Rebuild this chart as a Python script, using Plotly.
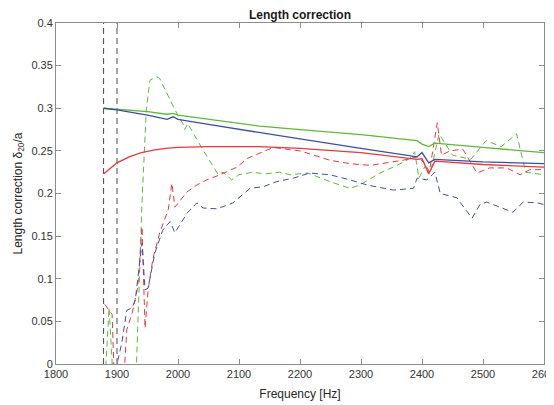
import plotly.graph_objects as go

# solid curves
f_blue = [1878, 1900, 1950, 1982, 1992, 2000, 2050, 2134, 2200, 2300, 2392, 2400, 2411, 2421, 2500, 2600]
blue = [0.300, 0.298, 0.292, 0.287, 0.290, 0.287, 0.281, 0.271, 0.264, 0.253, 0.243, 0.248, 0.236, 0.240, 0.237, 0.235]

f_green = [1878, 1900, 1950, 1982, 1992, 2000, 2050, 2134, 2200, 2300, 2392, 2400, 2411, 2421, 2500, 2600]
green = [0.300, 0.299, 0.296, 0.293, 0.294, 0.292, 0.287, 0.279, 0.275, 0.269, 0.262, 0.258, 0.255, 0.259, 0.254, 0.248]

f_red = [1878, 1890, 1900, 1920, 1940, 1960, 1980, 2000, 2050, 2134, 2200, 2300, 2392, 2400, 2411, 2421, 2500, 2600]
red = [0.223, 0.230, 0.236, 0.243, 0.248, 0.251, 0.253, 0.254, 0.255, 0.255, 0.253, 0.248, 0.240, 0.241, 0.223, 0.238, 0.234, 0.231]

# dashed (measured) curves
f_green_d = [1878, 1887, 1896, 1931, 1941, 1948, 1954, 1965, 1970, 1982, 1995, 2008, 2011, 2016, 2041,
             2066, 2074, 2088, 2100, 2123, 2143, 2167, 2184, 2213, 2233, 2249, 2282, 2298, 2331, 2359,
             2380, 2388, 2395, 2405, 2415, 2428, 2450, 2480, 2505, 2530, 2555, 2570, 2600]
green_d = [-0.05, 0.066, -0.05, -0.02, 0.19, 0.298, 0.333, 0.337, 0.335, 0.318, 0.298, 0.282, 0.275, 0.282, 0.251,
           0.222, 0.225, 0.216, 0.222, 0.225, 0.223, 0.225, 0.222, 0.224, 0.218, 0.214, 0.206, 0.210, 0.224, 0.233,
           0.241, 0.249, 0.218, 0.232, 0.228, 0.270, 0.245, 0.240, 0.262, 0.255, 0.270, 0.225, 0.222]

f_red_d = [1880, 1892, 1897, 1911, 1916, 1925, 1934, 1941, 1946, 1951, 1959, 1970, 1984, 1990, 1995,
           2015, 2031, 2047, 2069, 2097, 2113, 2134, 2156, 2200, 2249, 2282, 2315, 2369, 2392, 2405,
           2412, 2425, 2432, 2446, 2467, 2490, 2511, 2539, 2561, 2577, 2600]
red_d = [0.070, 0.058, -0.05, -0.02, 0.040, 0.060, 0.090, 0.161, 0.042, 0.087, 0.124, 0.154, 0.181, 0.212, 0.184,
         0.202, 0.210, 0.216, 0.222, 0.231, 0.241, 0.247, 0.254, 0.250, 0.239, 0.235, 0.233, 0.239, 0.243, 0.235,
         0.225, 0.283, 0.245, 0.250, 0.252, 0.224, 0.230, 0.230, 0.222, 0.228, 0.228]

f_blue_d = [1898, 1900, 1908, 1916, 1925, 1930, 1941, 1946, 1951, 1962, 1975, 1987, 1995, 2015, 2031,
            2041, 2064, 2090, 2118, 2140, 2162, 2189, 2216, 2249, 2282, 2310, 2353, 2386, 2392, 2408,
            2421, 2430, 2457, 2482, 2495, 2506, 2549, 2566, 2589, 2600]
blue_d = [-0.02, 0.0, 0.025, 0.063, 0.066, 0.075, 0.142, 0.087, 0.089, 0.130, 0.157, 0.167, 0.154, 0.177, 0.189,
          0.183, 0.182, 0.189, 0.206, 0.208, 0.214, 0.218, 0.224, 0.222, 0.216, 0.210, 0.204, 0.206, 0.218, 0.216,
          0.225, 0.200, 0.195, 0.171, 0.187, 0.190, 0.178, 0.190, 0.189, 0.187]

# vertical markers
v_lines = [1878, 1900]

x_ticks = list(range(1800, 2601, 100))
y_ticks = [0, 0.05, 0.1, 0.15, 0.2, 0.25, 0.3, 0.35, 0.4]
y_ticktext = ['0', '0.05', '0.1', '0.15', '0.2', '0.25', '0.3', '0.35', '0.4']

BLUE = '#3c4ea3'
GREEN = '#5fb83c'
RED = '#e8383d'
DASH = '6px,4px'

fig = go.Figure()

for f in v_lines:
    fig.add_trace(go.Scatter(x=[f, f], y=[0, 0.4], mode='lines',
                             line=dict(color='#4a4a4a', width=1, dash=DASH)))

for x, y, c in [(f_green_d, green_d, GREEN), (f_red_d, red_d, RED), (f_blue_d, blue_d, BLUE)]:
    fig.add_trace(go.Scatter(x=x, y=y, mode='lines', line=dict(color=c, width=1, dash=DASH)))

for x, y, c in [(f_red, red, RED), (f_green, green, GREEN), (f_blue, blue, BLUE)]:
    fig.add_trace(go.Scatter(x=x, y=y, mode='lines', line=dict(color=c, width=1.3)))

axis_style = dict(showline=True, linecolor='#8c8c8c', linewidth=1, mirror='ticks',
                  ticks='inside', ticklen=5, tickcolor='#8c8c8c', showgrid=False, zeroline=False,
                  automargin=False, tickfont=dict(size=11, color='#333333'))

# the page body adds an 8px offset, so the figure is sized/margined to compensate
fig.update_layout(
    width=546, height=397,
    margin=dict(l=48, r=10, t=15, b=41),
    paper_bgcolor='white', plot_bgcolor='white',
    showlegend=False,
    font=dict(family='Liberation Sans, Arial, sans-serif', color='#262626'),
    title=dict(text='<b>Length correction</b>', x=0.5348, xanchor='center', y=0.984, yanchor='middle',
               font=dict(size=12, color='#1a1a1a')),
    xaxis=dict(range=[1800, 2600], tickvals=x_ticks, ticklabeloverflow='allow',
               title=dict(text='Frequency [Hz]', font=dict(size=12), standoff=10), **axis_style),
    yaxis=dict(range=[0, 0.4], tickvals=y_ticks, ticktext=y_ticktext,
               title=dict(text='Length correction δ<sub>20</sub>/a', font=dict(size=12), standoff=6),
               **axis_style),
)

fig.write_html("out.html")
